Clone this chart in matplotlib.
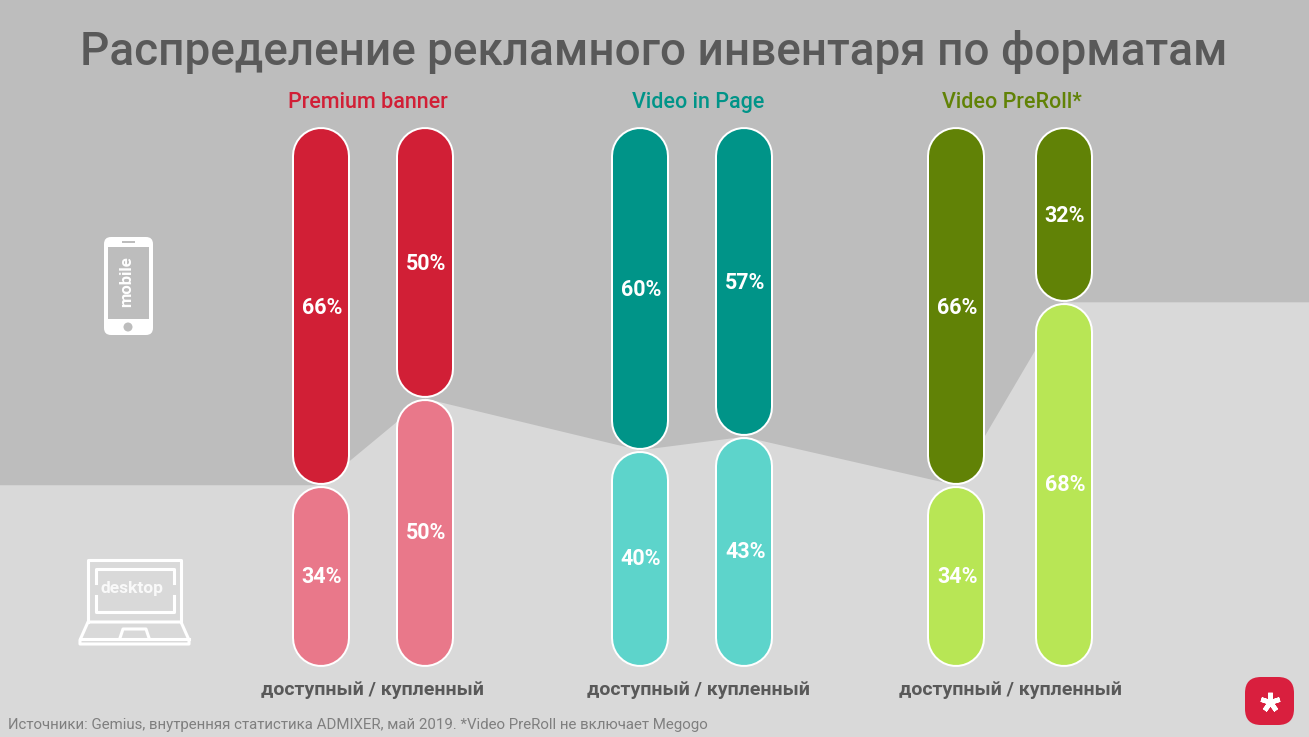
import matplotlib
matplotlib.use("Agg")
import matplotlib.pyplot as plt
from matplotlib.patches import FancyBboxPatch, Polygon, Circle

plt.rcParams["font.family"] = ["Roboto", "DejaVu Sans"]

# data: mobile share of each column
formats = ["Premium banner", "Video in Page", "Video PreRoll*"]
mobile_share = [66.4, 50.3, 59.9, 57.4, 66.4, 32.4]
column_labels = ["доступный / купленный"] * 3
title = "Распределение рекламного инвентаря по форматам"
source = "Источники: Gemius, внутренняя статистика ADMIXER, май 2019. *Video PreRoll не включает Megogo"

# layout in pixels
W, H = 1309, 737
column_x = [320.5, 425, 639.5, 744, 956, 1063.5]
header_x = [368, 698, 1012]
footer_x = [372, 698, 1010]
pill_w = 56
top_px, px_per_pct = 128, 5.38
gap = 0.6
PT = 72 / 100  # points per pixel

dark = ["#d11f36", "#d11f36", "#009488", "#009488", "#618206", "#618206"]
light = ["#e9788a", "#e9788a", "#5dd4cb", "#5dd4cb", "#b8e655", "#b8e655"]
head_colors = ["#d11f36", "#009488", "#618206"]
text_gray = "#595959"

fig = plt.figure(figsize=(W / 100, H / 100), dpi=100, facecolor="#bdbdbd")

# bars axes: x in pixels, y in percent of mobile share
ax = fig.add_axes([0, 0, 1, 1], zorder=1)
ax.set_xlim(0, W)
ax.set_ylim((H - top_px) / px_per_pct, -top_px / px_per_pct)
ax.axis("off")

line_x = [0] + column_x + [W]
line_y = [mobile_share[0]] + mobile_share + [mobile_share[-1]]
ax.fill_between(line_x, line_y, (H - top_px) / px_per_pct, color="#d9d9d9", lw=0, zorder=1)


def pill(x, y0, y1, color):
    # thick round-capped line, white one under it for the outline
    r = pill_w / 2 / px_per_pct
    ax.plot([x, x], [y0 + r, y1 - r], color="white", lw=(pill_w + 2) * PT, solid_capstyle="round", zorder=3)
    ax.plot([x, x], [y0 + r, y1 - r], color=color, lw=(pill_w - 2) * PT, solid_capstyle="round", zorder=3)


for x, v, c_dark, c_light in zip(column_x, mobile_share, dark, light):
    pill(x, 0, v - gap / 2, c_dark)
    pill(x, v + gap / 2, 100, c_light)
    ax.text(x + 1.5, v / 2 + 0.2, f"{v:.0f}%", color="white", fontsize=15.5, fontweight="bold",
            ha="center", va="center", zorder=4)
    ax.text(x + 1.5, (v + 100) / 2 + 0.2, f"{100 - v:.0f}%", color="white", fontsize=15.5,
            fontweight="bold", ha="center", va="center", zorder=4)

# overlay axes in pixels for headings and icons
ov = fig.add_axes([0, 0, 1, 1], zorder=2)
ov.set_xlim(0, W)
ov.set_ylim(H, 0)
ov.axis("off")
ov.patch.set_alpha(0)

ov.text(654, 52, title, color=text_gray, fontsize=33, fontweight="medium", ha="center", va="center")
for x, name, color in zip(header_x, formats, head_colors):
    ov.text(x, 102, name, color=color, fontsize=15.5, fontweight="medium", ha="center", va="center")
for x, name in zip(footer_x, column_labels):
    ov.text(x, 690, name, color=text_gray, fontsize=14, fontweight="bold", ha="center", va="center")
ov.text(8, 725, source, color="#7f7f7f", fontsize=10.8, ha="left", va="center")

# phone icon
ov.add_patch(FancyBboxPatch((104, 237), 49, 98, boxstyle="round,pad=0,rounding_size=7", fc="white", ec="none"))
ov.add_patch(plt.Rectangle((108, 247), 41, 72, fc="#bdbdbd", ec="none"))
ov.add_patch(plt.Rectangle((122, 240.5), 13, 2, fc="#bdbdbd", ec="none"))
ov.add_patch(Circle((128, 327), 4.5, fc="#bdbdbd", ec="none"))
ov.text(127, 282, "mobile", color="white", fontsize=12, fontweight="bold", rotation=90, ha="center", va="center")

# laptop icon
lw = 2.2
ov.plot([88, 88, 181, 181], [622, 560, 560, 622], color="white", lw=lw, solid_joinstyle="round")
ov.plot([96, 96, 174, 174], [583, 569, 569, 583], color="white", lw=lw)
ov.plot([96, 96, 174, 174], [596, 612, 612, 596], color="white", lw=lw)
ov.add_patch(Polygon([(88, 622), (181, 622), (189, 640), (189, 644), (80, 644), (80, 640)],
                     closed=True, fc="none", ec="white", lw=lw, joinstyle="round"))
ov.plot([80, 189], [639, 639], color="white", lw=lw)
ov.plot([120, 123, 146, 149], [638, 629, 629, 638], color="white", lw=lw)
ov.text(132, 588, "desktop", color="white", alpha=0.85, fontsize=12.5, fontweight="bold", ha="center", va="center")

# logo
ov.add_patch(FancyBboxPatch((1245, 677), 49, 48, boxstyle="round,pad=0,rounding_size=16", fc="#d91f3e", ec="none"))
ov.plot([1269.5], [701.5], marker=(5, 2, 0), ms=14, mew=3.4, color="white", ls="none")

fig.savefig("out.png", dpi=100, facecolor=fig.get_facecolor())
